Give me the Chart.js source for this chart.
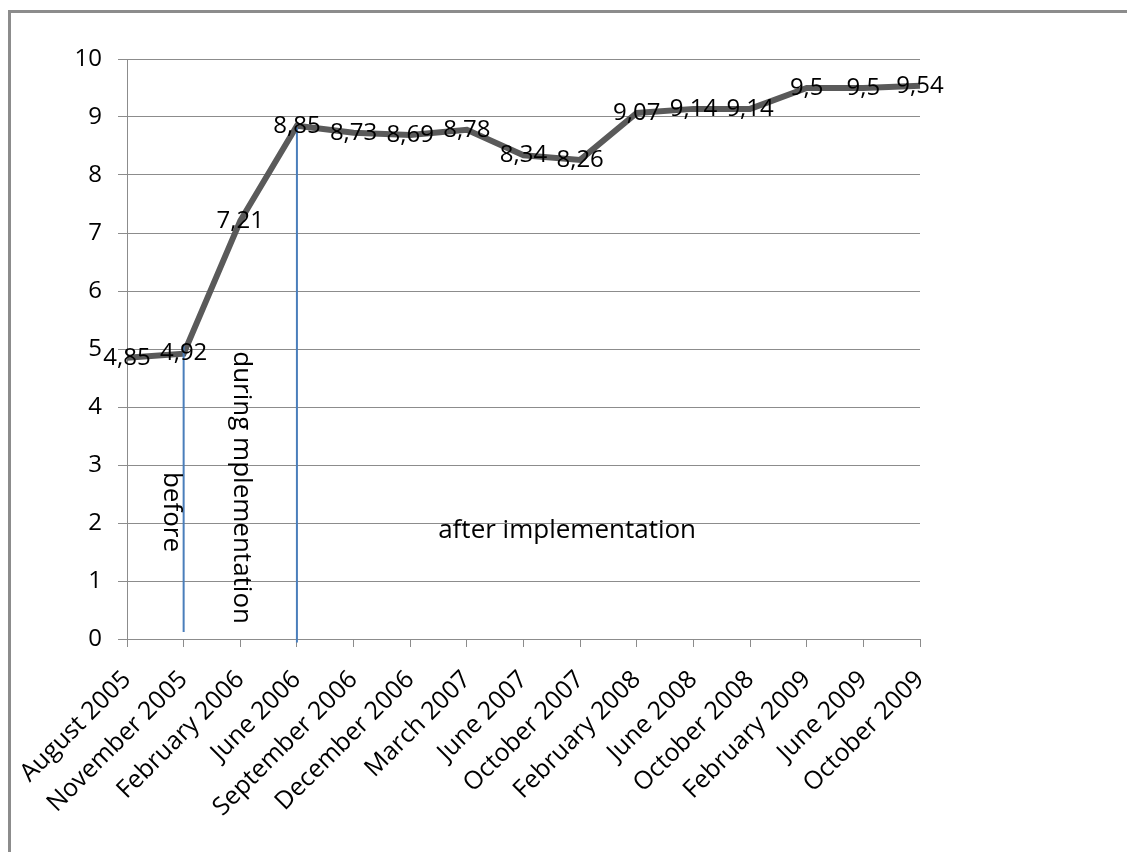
<!DOCTYPE html>
<html>
<head>
<meta charset="utf-8">
<script src="https://cdn.jsdelivr.net/npm/chart.js@4.4.1/dist/chart.umd.min.js"></script>
<style>
  body { margin: 0; background: #fff; }
  #frame { position: absolute; left: 8px; top: 10px; width: 1200px; height: 900px;
           border-left: 3px solid #8c8c8c; border-top: 3px solid #8c8c8c; }
  #wrap { position: absolute; left: 0; top: 0; width: 1127px; height: 852px; }
</style>
</head>
<body>
<div id="frame"></div>
<div id="wrap"><canvas id="myChart" width="1127" height="852"></canvas></div>
<script>
const months = [
  'August 2005', 'November 2005', 'February 2006', 'June 2006', 'September 2006',
  'December 2006', 'March 2007', 'June 2007', 'October 2007', 'February 2008',
  'June 2008', 'October 2008', 'February 2009', 'June 2009', 'October 2009'
]
const scores = [4.85, 4.92, 7.21, 8.85, 8.73, 8.69, 8.78, 8.34, 8.26, 9.07, 9.14, 9.14, 9.5, 9.5, 9.54]

// blue phase markers: [category, bottom, top]
const beforeLine = ['November 2005', 0.12, 5.07]
const duringLine = ['June 2006', -0.06, 8.82]

// phase captions: text, category position (index), value, rotated?
const notes = [
  ['before', 0.78, 2.19, true],
  ['during mplementation', 2.02, 2.61, true],
  ['after implementation', 7.77, 1.87, false]
]

const FONT = '"Open Sans", Lato, sans-serif'

const labelsPlugin = {
  id: 'pointLabels',
  afterDatasetsDraw(chart) {
    const ctx = chart.ctx
    const meta = chart.getDatasetMeta(0)
    ctx.save()
    ctx.font = '24px ' + FONT
    ctx.fillStyle = '#000'
    ctx.textAlign = 'center'
    ctx.textBaseline = 'middle'
    meta.data.forEach((pt, i) => {
      ctx.fillText(String(scores[i]).replace('.', ','), pt.x, pt.y)
    })
    const xs = chart.scales.x, ys = chart.scales.y
    ctx.font = '26px ' + FONT
    notes.forEach(([txt, xi, yv, rot]) => {
      const px = xs.getPixelForValue(xi)
      const py = ys.getPixelForValue(yv)
      ctx.save()
      ctx.translate(px, py)
      if (rot) ctx.rotate(Math.PI / 2)
      ctx.fillText(txt, 0, 0)
      ctx.restore()
    })
    ctx.restore()
  }
}

const data = {
  labels: months,
  datasets: [
    {
      data: scores,
      borderColor: '#5a5a5a',
      borderWidth: 6,
      pointRadius: 0,
      tension: 0,
      order: 2
    },
    {
      data: [{x: beforeLine[0], y: beforeLine[1]}, {x: beforeLine[0], y: beforeLine[2]}],
      borderColor: '#4a7ebb',
      borderWidth: 2,
      pointRadius: 0,
      clip: false,
      order: 1
    },
    {
      data: [{x: duringLine[0], y: duringLine[1]}, {x: duringLine[0], y: duringLine[2]}],
      borderColor: '#4a7ebb',
      borderWidth: 2,
      pointRadius: 0,
      clip: false,
      order: 1
    }
  ]
}

const config = {
  type: 'line',
  data: data,
  options: {
    responsive: false,
    animation: false,
    layout: { padding: { top: 59, right: 207, left: 0, bottom: 0 } },
    plugins: { legend: { display: false }, tooltip: { enabled: false } },
    scales: {
      x: {
        offset: false,
        grid: { drawOnChartArea: false, tickLength: 8, color: '#8c8c8c' },
        border: { color: '#8c8c8c' },
        ticks: { minRotation: 45, maxRotation: 45, color: '#000', font: { family: FONT, size: 25 }, padding: 18 },
        afterFit: (s) => { s.height = 213 }
      },
      y: {
        min: 0,
        max: 10,
        grid: {
          tickLength: 9,
          color: (c) => Number.isInteger(c.tick.value) ? '#8c8c8c' : '#c8c8c8',
          tickColor: (c) => Number.isInteger(c.tick.value) ? '#8c8c8c' : 'rgba(0,0,0,0)'
        },
        border: { color: '#8c8c8c' },
        ticks: {
          stepSize: 0.5,
          color: '#000',
          padding: 16,
          font: { family: FONT, size: 24 },
          callback: (v) => Number.isInteger(v) ? v : ''
        },
        afterFit: (s) => { s.width = 127 }
      }
    }
  },
  plugins: [labelsPlugin]
}

var myChart = new Chart(document.getElementById('myChart'), config)
</script>
</body>
</html>
